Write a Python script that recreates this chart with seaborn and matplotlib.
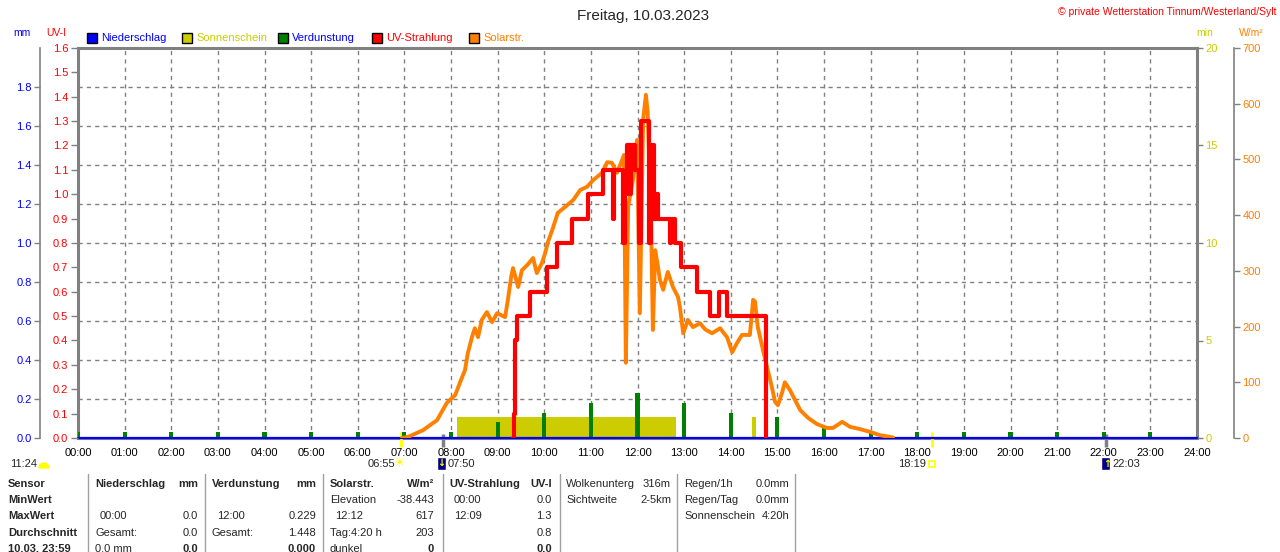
import numpy as np
import pandas as pd
import seaborn as sns
import matplotlib
matplotlib.use("Agg")
import matplotlib.pyplot as plt
from matplotlib.patches import Rectangle, Wedge
from matplotlib.transforms import Affine2D

W, H = 1280, 552

# ---------------- data ----------------
# Solarstrahlung (W/m2), time in decimal hours
solar_h = [6.95, 7.08, 7.40, 7.70, 7.91, 8.09, 8.19, 8.30, 8.36, 8.45, 8.51, 8.58,
           8.66, 8.77, 8.88, 8.99, 9.16, 9.22, 9.29, 9.33, 9.44, 9.52, 9.63, 9.76,
           9.84, 9.95, 10.02, 10.08, 10.17, 10.29, 10.45, 10.62, 10.77, 10.92, 11.05,
           11.24, 11.35, 11.45, 11.56, 11.67, 11.71, 11.75, 11.80, 11.90, 11.99, 12.05,
           12.12, 12.18, 12.22, 12.29, 12.33, 12.38, 12.44, 12.48, 12.55, 12.65, 12.76,
           12.87, 12.91, 12.98, 13.08, 13.19, 13.34, 13.45, 13.60, 13.77, 13.92, 14.03,
           14.13, 14.24, 14.41, 14.48, 14.52, 14.58, 14.69, 14.78, 14.88, 14.95, 15.01,
           15.10, 15.16, 15.27, 15.38, 15.49, 15.66, 15.85, 16.06, 16.19, 16.39, 16.56,
           16.77, 16.99, 17.20, 17.48]
solar_wm2 = [0, 2, 14, 32, 63, 77, 99, 122, 152, 181, 197, 181,
             212, 226, 208, 224, 217, 248, 289, 305, 271, 301, 310, 323,
             296, 314, 332, 352, 373, 404, 415, 427, 445, 451, 463,
             476, 495, 494, 476, 499, 508, 135, 415, 463, 535, 224,
             571, 616, 583, 391, 194, 337, 307, 284, 266, 298, 271,
             253, 235, 188, 212, 199, 206, 195, 188, 197, 181, 154,
             170, 185, 185, 248, 245, 199, 158, 127, 92, 65, 59,
             81, 100, 86, 68, 50, 36, 25, 18, 18, 29, 20,
             16, 11, 5, 1]

# UV-Strahlung (UV-I), step values
uv_h = [9.33, 9.35, 9.38, 9.42, 9.69, 10.06, 10.27, 10.60, 10.94, 11.26, 11.47, 11.50,
        11.69, 11.73, 11.78, 11.83, 11.86, 11.95, 12.03, 12.08, 12.24, 12.30, 12.35,
        12.40, 12.45, 12.69, 12.72, 12.80, 12.93, 13.28, 13.55, 13.75, 13.92, 14.76]
uv_val = [0.0, 0.1, 0.4, 0.5, 0.6, 0.7, 0.8, 0.9, 1.0, 1.1, 0.9, 1.1,
          0.8, 1.0, 1.2, 1.0, 1.2, 1.1, 0.8, 1.3, 0.8, 1.2, 0.9,
          1.0, 0.9, 0.8, 0.9, 0.8, 0.7, 0.6, 0.5, 0.6, 0.5, 0.0]

# Verdunstung (mm) per hour
verd_h = list(range(24))
verd_mm = [0.03, 0.03, 0.03, 0.03, 0.03, 0.03, 0.03, 0.03, 0.03, 0.08, 0.13, 0.18,
           0.23, 0.18, 0.13, 0.11, 0.05, 0.03, 0.03, 0.03, 0.03, 0.03, 0.03, 0.03]

# Sonnenschein (min)
sonne_start = [8.13, 14.46]
sonne_end = [12.83, 14.54]
sonne_min = [1.1, 1.1]

# Niederschlag (mm)
regen_h = [0, 24]
regen_mm = [0.0, 0.0]

sun_times = [6.917, 18.317]     # 06:55 / 18:19
moon_times = [7.833, 22.05]     # 07:50 / 22:03

hour_labels = ["%02d:00" % h for h in range(25)]

BLUE, YEL, GREEN, RED, ORANGE, GREY = "#0000ff", "#cccc00", "#008000", "#ff0000", "#ff8000", "#808080"

sns.set_style("white")
plt.rcParams['font.family'] = ['Liberation Sans', 'DejaVu Sans']
plt.rcParams['font.size'] = 8

fig = plt.figure(figsize=(W / 100, H / 100), dpi=100)
pix = Affine2D().scale(1 / W, -1 / H).translate(0, 1) + fig.transFigure

L, R, T, B = 78, 1197, 48, 438
ax = fig.add_axes([L / W, 1 - B / H, (R - L) / W, (B - T) / H])   # base: min axis
ax.set_xlim(0, 24)
ax.set_ylim(0, 20)

# grid
for h in range(1, 24):
    ax.axvline(h, color=GREY, lw=1, ls=(0, (3, 3)), zorder=0)
for m in range(2, 20, 2):
    ax.axhline(m, color=GREY, lw=1, ls=(0, (3, 3)), zorder=0)

# Sonnenschein bars
ax.bar(sonne_start, sonne_min, width=np.array(sonne_end) - np.array(sonne_start),
       align='edge', color=YEL, linewidth=0, zorder=1)

ax.set_xticks(range(25))
ax.set_xticklabels(hour_labels)
ax.tick_params(axis='x', length=0, pad=7, labelsize=8, labelcolor='black')
for s in ax.spines.values():
    s.set_color(GREY)
    s.set_linewidth(2.2)

# marks for sun / moon times
ax.vlines(sun_times, -0.46, 0.31, color="#ffff00", lw=2, clip_on=False, zorder=5)
ax.vlines(moon_times, -0.46, 0.2, color=GREY, lw=2.5, clip_on=False, zorder=5)

# mm axis (Verdunstung, Niederschlag)
ax_mm = ax.twinx()
ax_mm.set_ylim(0, 2.0)
ax_mm.bar(verd_h, verd_mm, width=0.09, color=GREEN, linewidth=0, zorder=2)
sns.lineplot(x=regen_h, y=regen_mm, ax=ax_mm, color=BLUE, lw=1.6, clip_on=False)
ax_mm.spines['left'].set_position(('axes', (40 - L) / (R - L)))
ax_mm.yaxis.tick_left()
ax_mm.set_yticks(np.arange(0, 1.81, 0.2))
ax_mm.set_yticklabels(["%.1f" % v for v in np.arange(0, 1.81, 0.2)])
ax_mm.tick_params(axis='y', colors=GREY, labelcolor=BLUE, length=4, width=1, pad=2, labelsize=8)
for k, s in ax_mm.spines.items():
    s.set_visible(k == 'left')
ax_mm.spines['left'].set_color(GREY)
ax_mm.spines['left'].set_linewidth(1.2)

# W/m2 axis (Solarstrahlung)
ax_w = ax.twinx()
ax_w.set_ylim(0, 700)
sns.lineplot(x=solar_h, y=solar_wm2, ax=ax_w, color=ORANGE, lw=2.8,
             estimator=None, errorbar=None, sort=False)
ax_w.spines['right'].set_position(('axes', (1234 - L) / (R - L)))
ax_w.set_yticks(range(0, 701, 100))
ax_w.tick_params(axis='y', colors=GREY, labelcolor=ORANGE, length=4, width=1, pad=2, labelsize=8)
for k, s in ax_w.spines.items():
    s.set_visible(k == 'right')
ax_w.spines['right'].set_color(GREY)
ax_w.spines['right'].set_linewidth(1.2)

# UV axis (UV-Strahlung)
ax_uv = ax.twinx()
ax_uv.set_ylim(0, 1.6)
sns.lineplot(x=uv_h, y=uv_val, ax=ax_uv, color=RED, lw=3, drawstyle='steps-post',
             estimator=None, errorbar=None, sort=False)
ax_uv.yaxis.tick_left()
ax_uv.set_yticks(np.arange(0, 1.61, 0.1))
ax_uv.set_yticklabels(["%.1f" % v for v in np.arange(0, 1.61, 0.1)])
ax_uv.tick_params(axis='y', colors=GREY, labelcolor=RED, length=5, width=1, pad=2, labelsize=8)
for s in ax_uv.spines.values():
    s.set_visible(False)

# min axis ticks on the right (after twinx, which moves base ticks left)
ax.yaxis.tick_right()
ax.set_yticks([0, 5, 10, 15, 20])
ax.tick_params(axis='y', colors=GREY, labelcolor=YEL, length=4, width=1, pad=2, labelsize=8)

for a in (ax, ax_mm, ax_w, ax_uv):
    a.set_xlabel("")
    a.set_ylabel("")

# ---------------- texts ----------------
def ptext(x, y, s, **kw):
    kw.setdefault('va', 'center')
    kw.setdefault('fontsize', 8)
    return fig.text(x, y, s, transform=pix, **kw)

ptext(643, 16, "Freitag, 10.03.2023", ha='center', fontsize=11)
ptext(1276, 12, "© private Wetterstation Tinnum/Westerland/Sylt", ha='right', color=RED, fontsize=7.5)
ptext(22, 33, "mm", ha='center', color=BLUE, fontsize=7.5)
ptext(56, 33, "UV-I", ha='center', color=RED, fontsize=7.5)
ptext(1205, 33, "min", ha='center', color=YEL, fontsize=7.5)
ptext(1251, 33, "W/m²", ha='center', color=ORANGE, fontsize=7.5)

legend_items = [(87, "Niederschlag", BLUE, BLUE), (182, "Sonnenschein", YEL, YEL),
                (278, "Verdunstung", GREEN, BLUE), (372, "UV-Strahlung", RED, RED),
                (469, "Solarstr.", ORANGE, ORANGE)]
for x, lab, fc, tc in legend_items:
    fig.patches.append(Rectangle((x, 33), 10, 10, transform=pix, facecolor=fc,
                                 edgecolor='black', lw=1))
    ptext(x + 14, 38, lab, ha='left', color=tc, fontsize=8)

# sun / moon annotations below the axis
ptext(10, 464, "11:24", ha='left')
fig.patches.append(Wedge((44, 468), 5, 180, 360, transform=pix, color="#ffff00"))
ptext(395, 464, "06:55", ha='right')
ptext(400, 464, "☀", ha='center', color="#ffff00", fontsize=9, family='DejaVu Sans')
fig.patches.append(Rectangle((437, 457), 9, 13, transform=pix, facecolor="#000080"))
ptext(441, 463, "↓", ha='center', color="#ffff00", fontsize=7, family='DejaVu Sans', weight='bold')
ptext(448, 464, "07:50", ha='left')
ptext(926, 464, "18:19", ha='right')
fig.patches.append(Rectangle((929, 461), 6, 6, transform=pix, facecolor='white',
                             edgecolor="#ffff00", lw=1.2))
fig.patches.append(Rectangle((1101, 457), 9, 13, transform=pix, facecolor="#000080"))
ptext(1107, 464, "↑", ha='center', color="#ffff00", fontsize=7, family='DejaVu Sans', weight='bold')
ptext(1112, 464, "22:03", ha='left')

# ---------------- table ----------------
rows_y = [484, 500, 516, 533, 549]
for x in [88, 205, 323, 443, 560, 677, 795]:
    fig.add_artist(plt.Line2D([x, x], [474, 552], transform=pix, color="#a0a0a0", lw=1))

sensor_col = ["Sensor", "MinWert", "MaxWert", "Durchschnitt", "10.03. 23:59"]
for y, s in zip(rows_y, sensor_col):
    ptext(8, y, s, ha='left', weight='bold')

# (left x, right x, header, unit, left texts, right texts)
table_cols = [
    (95, 198, "Niederschlag", "mm", ["", "00:00", "Gesamt:", "0.0 mm"], ["", "0.0", "0.0", "0.0"]),
    (212, 316, "Verdunstung", "mm", ["", "12:00", "Gesamt:", ""], ["", "0.229", "1.448", "0.000"]),
    (330, 434, "Solarstr.", "W/m²", ["Elevation", "12:12", "Tag:4:20 h", "dunkel"], ["-38.443", "617", "203", "0"]),
    (449, 552, "UV-Strahlung", "UV-I", ["00:00", "12:09", "", ""], ["0.0", "1.3", "0.8", "0.0"]),
]
for xl, xr, head, unit, lefts, rights in table_cols:
    ptext(xl, rows_y[0], head, ha='left', weight='bold')
    ptext(xr, rows_y[0], unit, ha='right', weight='bold')
    for i, (lt, rt) in enumerate(zip(lefts, rights)):
        indent = 5 if lt[:1].isdigit() and ":" in lt and len(lt) == 5 else 0
        ptext(xl + indent, rows_y[i + 1], lt, ha='left')
        ptext(xr, rows_y[i + 1], rt, ha='right', weight='bold' if i == 3 else 'normal')

extra_left = [["Wolkenunterg", "Sichtweite"], ["Regen/1h", "Regen/Tag", "Sonnenschein"]]
extra_right = [["316m", "2-5km"], ["0.0mm", "0.0mm", "4:20h"]]
for xl, xr, lefts, rights in zip([566, 684], [671, 789], extra_left, extra_right):
    for i, (lt, rt) in enumerate(zip(lefts, rights)):
        ptext(xl, rows_y[i], lt, ha='left')
        ptext(xr, rows_y[i], rt, ha='right')

fig.savefig("out.png", dpi=100)
